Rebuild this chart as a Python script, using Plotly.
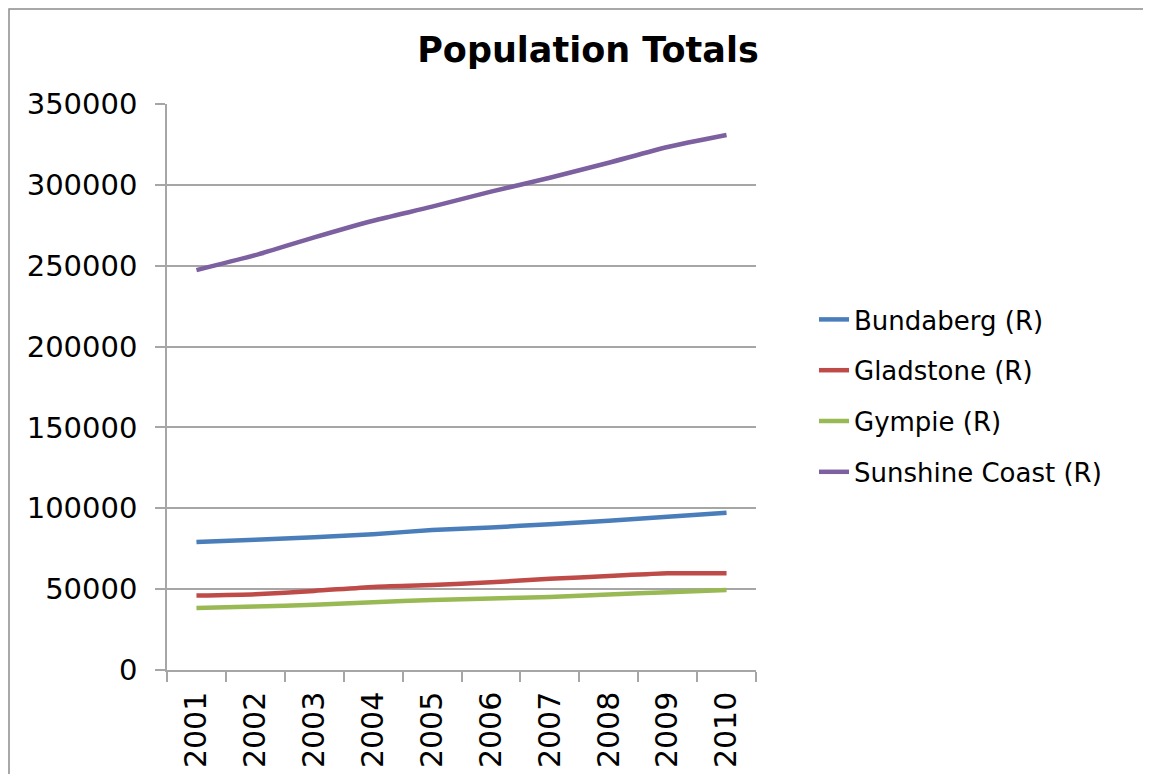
import plotly.graph_objects as go

years = ["2001", "2002", "2003", "2004", "2005", "2006", "2007", "2008", "2009", "2010"]
bundaberg = [79200, 80600, 82100, 84000, 86500, 88100, 90200, 92300, 94800, 97300]
gladstone = [46000, 46900, 48900, 51400, 52500, 54200, 56400, 58100, 59800, 59800]
gympie = [38300, 39200, 40400, 41900, 43300, 44200, 45200, 46700, 48100, 49400]
sunshine = [247300, 256500, 267500, 277800, 286500, 295800, 304400, 313700, 323400, 330800]

series = [
    ("Bundaberg (R)", bundaberg, "#4A7EBB"),
    ("Gladstone (R)", gladstone, "#BE4B48"),
    ("Gympie (R)", gympie, "#98B954"),
    ("Sunshine Coast (R)", sunshine, "#7D60A0"),
]

# page is offset by the 8px body margin
OFF = 8
W, H = 1151 - 2 * OFF, 782 - 2 * OFF
L, R, T, B = 167 - OFF, 756 - OFF, 104 - OFF, 670 - OFF

fig = go.Figure()
for name, vals, col in series:
    fig.add_trace(go.Scatter(
        x=years, y=vals, name=name, mode="lines",
        line=dict(color=col, width=4.5, shape="spline", smoothing=0.6),
        legendgroup=name,
    ))

gray = "#a6a6a6"
font = "DejaVu Sans, Verdana, sans-serif"

fig.update_layout(
    width=W, height=H,
    margin=dict(l=L, r=W - R, t=T, b=H - B, autoexpand=False),
    paper_bgcolor="white", plot_bgcolor="white",
    font=dict(family=font, size=26, color="black"),
    title=dict(text="<b>Population Totals</b>", x=(588 - OFF) / W, xanchor="center",
               y=1 - (50 - OFF) / H, yanchor="middle",
               font=dict(family=font, size=35, color="black")),
    showlegend=True,
    legend=dict(x=(814 - OFF - L) / (R - L), xanchor="left",
                y=(B - (396 - OFF)) / (B - T), yanchor="middle",
                traceorder="grouped", tracegroupgap=14,
                font=dict(family=font, size=26, color="black"),
                bgcolor="rgba(0,0,0,0)"),
    xaxis=dict(type="category", range=[-0.5, 9.5], showgrid=False,
               showline=True, linecolor=gray, linewidth=1.5,
               ticks="outside", tickson="boundaries", ticklen=10, tickcolor=gray, tickwidth=1.5,
               tickangle=-90, ticklabelstandoff=8,
               tickfont=dict(family=font, size=30, color="black")),
    yaxis=dict(range=[0, 350000], dtick=50000, tickformat="d",
               showgrid=True, gridcolor=gray, gridwidth=1.5,
               showline=True, linecolor=gray, linewidth=1.5,
               ticks="outside", ticklen=10, tickcolor=gray, tickwidth=1.5,
               ticklabelstandoff=12,
               zeroline=False,
               tickfont=dict(family=font, size=29, color="black")),
)

pw, ph = R - L, B - T
fig.add_shape(type="rect", xref="paper", yref="paper",
              x0=(1 - L) / pw, x1=(W + 20 - L) / pw,
              y0=(B - (H + 20)) / ph, y1=(B - 1) / ph,
              line=dict(color="#8c8c8c", width=1.5), fillcolor="rgba(0,0,0,0)", layer="below")

fig.write_html("out.html")
